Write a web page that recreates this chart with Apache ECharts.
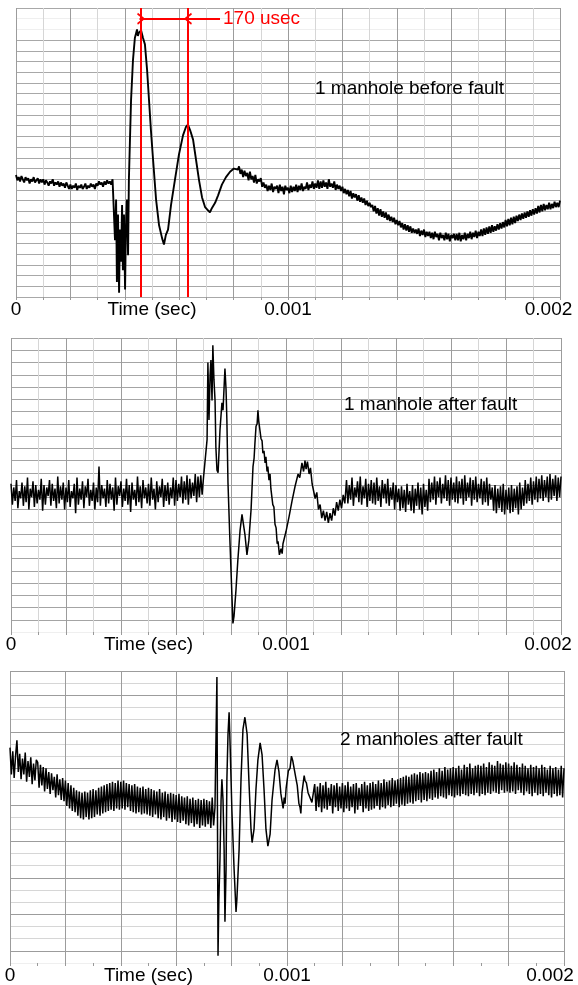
<!DOCTYPE html>
<html>
<head>
<meta charset="utf-8">
<title>Manhole fault transients</title>
<script src="https://cdn.jsdelivr.net/npm/echarts@6/dist/echarts.min.js"></script>
<style>
  html, body { margin: 0; padding: 0; background: #fff; }
  #chart { width: 578px; height: 985px; }
</style>
</head>
<body>
<div id="chart"></div>
<script>
// time in microseconds, amplitude in tenths of a grid division
const xTickLabels = { 0: '0', 500: 'Time (sec)', 1000: '0.001', 2000: '0.002' }
const panelTitles = ['1 manhole before fault', '1 manhole after fault', '2 manholes after fault']
const noiseStep = 5 // us between readings in the quiet stretches

// 1 manhole before fault
const before1Lead = [
  114,109,112,108,113,110,107,112,109,111,106,110,108,112,107,109,111,106,110,107,
  110,105,109,107,104,108,106,110,104,107,105,108,103,107,104,106,102,107,104,101,
  105,101,104,102,106,100,104,102,105,101,103,106,101,104,102,106,103,105,101,106,
  104,108,105,107,103,108,105,109,106,108,105,110]
const before1Burst = [[364,53],[368,91],[371,14],[375,77],[379,4],[382,63],[386,33],[390,86],[393,25],
  [397,77],[401,7],[404,63],[408,91],[412,39],[415,109],[419,147],[423,184],[430,221],[437,242],[445,250],
  [448,244],[452,247],[460,249],[467,242],[474,236],[482,212],[489,184],[496,156],[504,128],[515,91],
  [526,67],[537,55],[544,49],[551,58],[559,63],[570,86],[584,109],[599,133],[614,151],[625,159],[632,161],
  [640,156],[651,147],[662,128],[673,109],[684,93],[695,84],[706,81],[713,79],[720,83],[732,88],[743,95],
  [757,105],[772,112],[787,117],[801,120],[816,119]]
const before1Tail = [
  122,115,119,112,118,113,116,109,117,110,113,107,114,106,110,108,111,103,107,102,
  105,99,104,100,106,98,103,101,104,97,105,99,103,96,104,100,102,97,104,98,
  103,99,105,98,104,100,106,99,103,101,107,100,105,102,108,101,106,102,109,101,
  108,102,109,103,107,101,110,103,106,102,108,100,105,101,104,99,103,97,101,96,
  100,94,99,92,97,93,96,90,95,89,93,88,92,86,90,85,88,84,86,80,
  85,78,83,76,82,75,80,74,79,72,77,71,75,70,74,68,72,67,71,65,
  69,63,68,62,67,61,66,60,64,60,63,59,64,57,62,58,63,56,61,57,
  61,55,60,54,61,56,59,53,60,55,58,53,60,54,59,52,58,55,59,53,
  59,53,60,52,58,54,60,53,59,55,61,54,60,56,62,55,61,57,63,57,
  64,58,65,59,66,60,67,61,66,62,68,63,69,64,70,65,72,66,73,67,
  74,68,75,69,76,71,77,72,78,73,79,74,80,75,81,76,82,77,83,78,
  85,79,86,80,87,81,86,82,88,82,87,83,89,84,88,84,90]

// 1 manhole after fault
const after1Lead = [
  121,104,118,107,124,101,115,109,122,103,119,106,126,100,117,110,123,102,120,105,
  116,108,125,99,120,104,118,111,124,103,121,107,117,101,127,105,119,108,122,100,
  118,106,124,102,115,109,121,97,126,104,117,108,123,101,119,110,125,103,116,107,
  122,100,118,106,135,103,120,109,117,102,124,105,121,108,118,99,126,104,119,111,
  123,102,117,107,125,104,120,98,122,108,116,103,127,106,119,101,124,109,118,105,
  121,103,126,108,117,100,123,106,119,110,125,102,120,107,122,104,118,109,126,103,
  124,107,121,110,127,105,123,108,128,104,125,109,122,111,129,106,127,110,128,112,
  126]
const after1Burst = [[705,126],[713,157],[716,220],[720,173],[724,210],[727,222],[731,189],[734,234],
  [738,206],[742,189],[745,151],[749,132],[753,130],[760,165],[767,187],[771,181],[778,215],[782,198],
  [785,173],[789,122],[796,75],[804,26],[807,7],[811,13],[818,34],[825,59],[833,83],[840,96],[844,97],
  [851,79],[858,63],[865,75],[873,100],[880,135],[884,142],[887,154],[891,168],[895,170],[898,181],
  [901,172],[905,173],[909,158],[913,156],[916,146],[920,148],[924,138],[927,143],[931,131],[934,135],
  [938,124],[942,129],[945,117],[949,118],[952,104],[956,102],[960,88],[964,85],[968,72],[971,74],
  [976,63],[982,68],[986,64],[989,72],[994,71],[1000,82],[1005,83],[1011,94],[1016,95],[1022,107],
  [1027,108],[1033,119],[1038,118],[1044,129],[1050,126],[1058,138],[1064,131],[1069,140],[1073,133],
  [1078,139],[1084,129],[1089,134],[1095,121],[1100,122],[1106,109],[1112,114],[1118,100],[1124,104],
  [1130,93],[1136,99],[1142,91],[1148,98],[1154,89],[1160,97],[1166,91],[1172,101],[1178,95],[1184,106],
  [1190,99],[1196,108],[1202,101],[1208,112],[1214,105]]
const after1Tail = [
  124,105,120,108,126,103,118,110,123,106,127,104,119,109,125,102,121,107,124,105,
  122,104,126,107,119,102,124,109,121,105,125,103,118,108,122,100,120,106,117,99,
  119,101,116,98,121,104,115,99,120,97,117,103,122,100,118,96,121,102,116,99,
  125,106,122,108,127,104,123,110,126,105,121,109,128,107,124,103,126,108,122,106,
  127,105,123,109,125,104,128,107,122,110,126,103,124,108,127,106,121,109,125,104,
  123,106,126,103,121,108,118,99,120,97,117,101,119,98,121,96,116,100,118,97,
  120,98,117,101,119,96,122,100,118,103,124,105,121,107,126,104,123,108,127,106,
  125,109,128,107,124,110,127,106,129,108,125,111,128,107,126,110,127]

// 2 manholes after fault
const after2Lead = [
  177,155,174,152,170,183,157,172,151,168,155,173,149,166,153,169,147,164,150,167,
  165,144,163,146,161,141,160,143,157,139,156,142,153,136,155,138,151,134,152,133,
  150,129,148,127,146,125,144,124,142,121,141,119,140,118,141,120,140,118,142,119,
  143,120,142,122,144,121,145,123,146,124,147,125,148,126,149,125,148,127,150,126,
  149,127,150,126,148,128,147,125,146,124,147,123,145,124,144,122,145,123,143,122,
  144,121,143,120,142,122,141,119,143,118,140,120,141,117,139,119,140,116,139,118,
  138,116,139,115,137,117,136,114,137,113,135,115,136,112,134,114,135,111,134,113,
  135,112,134,114,133,111,136,113,128]
const after2Burst = [[747,235],[751,6],[754,52],[758,85],[762,134],[765,151],[769,134],[773,93],[776,34],
  [780,77],[783,151],[787,188],[791,206],[794,184],[801,126],[809,77],[816,42],[819,52],[827,93],
  [834,151],[841,192],[848,202],[856,188],[863,147],[870,110],[874,99],[881,110],[888,143],[895,167],
  [903,181],[910,171],[917,143],[924,110],[931,96],[939,106],[946,134],[957,159],[964,167],[971,157],
  [978,139],[986,127],[990,136],[993,131],[997,144],[1000,143],[1005,158],[1011,160],[1016,170],
  [1021,166],[1026,166],[1032,152],[1037,146],[1043,131],[1047,128],[1050,123],[1054,140],[1058,141],
  [1062,154],[1065,150],[1070,148],[1076,140],[1083,141],[1090,132]]
const after2Tail = [
  147,125,145,128,148,124,146,127,149,126,144,129,147,123,146,128,148,125,145,127,
  148,124,146,127,149,125,145,128,147,123,148,126,144,129,147,124,149,127,146,125,
  148,126,149,127,147,129,150,126,148,128,151,127,149,130,150,128,152,129,150,131,
  151,128,152,130,153,129,154,131,153,132,155,131,156,133,155,134,157,132,156,134,
  157,133,156,135,158,134,159,136,157,135,160,137,158,136,161,135,159,138,160,137,
  161,136,160,138,162,137,159,139,163,138,161,137,164,139,160,138,162,140,163,137,
  162,139,164,138,161,140,165,139,163,141,162,140,166,139,164,142,163,140,165,141,
  164,140,162,141,165,139,163,142,161,140,164,138,162,141,160,139,163,137,161,140,
  162,138,160,139,163,137,161,140,159,138,162,136,160,139,161,137,159,138,162,136,
  160]

// red cursors on the first trace
const cursorTimes = [460, 632]
const cursorLevel = 260
const cursorLabel = '170 usec'

const steady = (start, values) => values.map((v, i) => [start + i * noiseStep, v])

const traces = [
  steady(0, before1Lead).concat(before1Burst, steady(820, before1Tail)),
  steady(0, after1Lead).concat(after1Burst, steady(1220, after1Tail)),
  steady(0, after2Lead).concat(after2Burst, steady(1100, after2Tail))
]

const grids = [
  { left: 16, top: 8, width: 544, height: 289 },
  { left: 11, top: 338, width: 550, height: 294 },
  { left: 10, top: 671, width: 554, height: 293 }
]
const yMax = [270, 240, 240]
const traceWidth = [1.9, 1.5, 1.5]
const lastLabelPad = [23, 26, 28]
const titlePos = [[315, 79], [344, 395], [340, 730]]

const dark = '#9c9c9c', light = '#d6d6d6', faint = '#efefef'
const vColors = [
  [dark, light],
  [dark, light],
  [dark, 'rgba(0,0,0,0)']
]
function hColors(i) {
  const n = yMax[i] / 10 + 1
  const out = []
  for (let k = 0; k < n; k++) {
    if (i === 0) out.push(k >= 25 && k < 27 ? faint : '#a8a8a8')
    else if (i === 1) out.push(k === 0 ? faint : '#a4a4a4')
    else out.push(k === 0 ? faint : (k % 3 === 1 || k === n - 1 ? dark : light))
  }
  return out
}

const font = 'Liberation Sans, Arial, sans-serif'
const chevron = 'path://M5,0 L10,9 L8.6,10 L5,3.2 L1.4,10 L0,9 Z'

const chart = echarts.init(document.getElementById('chart'))

chart.setOption({
  animation: false,
  backgroundColor: '#fff',
  textStyle: { fontFamily: font },
  title: panelTitles.map((t, i) => ({
    text: t, left: titlePos[i][0], top: titlePos[i][1], padding: 0,
    textStyle: { fontSize: 19, fontWeight: 'normal', color: '#000', fontFamily: font }
  })),
  grid: grids,
  xAxis: grids.map((g, i) => ({
    type: 'value', gridIndex: i, min: 0, max: 2000, interval: 100,
    axisLine: { show: false },
    axisTick: { show: true, length: 3, lineStyle: { color: '#999' } },
    axisLabel: {
      margin: 3, color: '#000', fontSize: 19, fontFamily: font,
      formatter: v => v === 2000 ? '{r|' + xTickLabels[v] + '}' : (xTickLabels[v] || ''),
      rich: { r: { fontSize: 19, color: '#000', fontFamily: font, padding: [0, lastLabelPad[i], 0, 0] } }
    },
    splitLine: { show: true, lineStyle: { color: vColors[i], width: 1 } }
  })),
  yAxis: grids.map((g, i) => ({
    type: 'value', gridIndex: i, min: 0, max: yMax[i], interval: 10,
    axisLine: { show: false }, axisTick: { show: false }, axisLabel: { show: false },
    splitLine: { show: true, lineStyle: { color: hColors(i), width: 1 } }
  })),
  series: traces.map((d, i) => ({
    type: 'line', xAxisIndex: i, yAxisIndex: i, data: d,
    showSymbol: false, symbol: 'none', silent: true,
    lineStyle: { color: '#000', width: traceWidth[i] },
    markLine: i !== 0 ? undefined : {
      silent: true, animation: false, symbol: 'none',
      lineStyle: { color: '#ff0000', width: 2, type: 'solid' },
      label: { show: false },
      data: [
        { xAxis: cursorTimes[0] },
        { xAxis: cursorTimes[1] },
        [{ coord: [cursorTimes[0], cursorLevel] },
         { coord: [750, cursorLevel],
           label: { show: true, position: 'end', distance: 3, formatter: cursorLabel,
                    color: '#ff0000', fontSize: 19, fontFamily: font } }],
        [{ coord: [cursorTimes[0] - 6, cursorLevel], symbol: 'none' },
         { coord: [cursorTimes[0], cursorLevel], symbol: chevron, symbolSize: [12, 8] }],
        [{ coord: [cursorTimes[1] + 30, cursorLevel], symbol: 'none' },
         { coord: [cursorTimes[1], cursorLevel], symbol: chevron, symbolSize: [12, 8] }]
      ]
    }
  }))
})
</script>
</body>
</html>
